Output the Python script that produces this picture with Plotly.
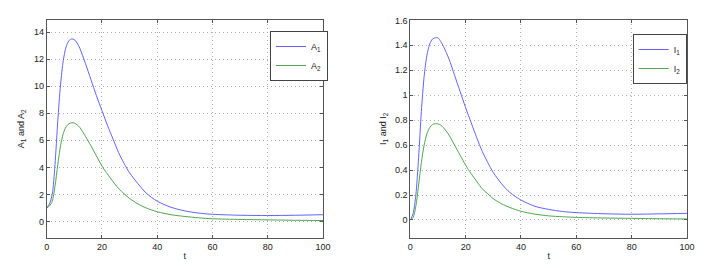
import plotly.graph_objects as go

# ---- data ----
t = [0, 1, 2, 3, 4, 5, 6, 7, 8, 9, 10, 11, 12, 14, 16, 18, 20, 22, 24, 26, 28, 30, 33, 36, 40, 45, 50, 55, 60, 70, 80, 90, 100]
A1 = [1.0, 1.3, 2.0, 4.2, 7.4, 10.1, 11.9, 12.9, 13.35, 13.5, 13.45, 13.2, 12.8, 11.7, 10.5, 9.3, 8.2, 7.1, 6.1, 5.1, 4.3, 3.6, 2.8, 2.1, 1.5, 1.05, 0.78, 0.62, 0.53, 0.46, 0.44, 0.46, 0.5]
A2 = [1.0, 1.15, 1.5, 2.6, 4.2, 5.6, 6.5, 7.0, 7.22, 7.3, 7.28, 7.15, 6.95, 6.3, 5.6, 4.85, 4.1, 3.5, 2.95, 2.45, 2.05, 1.7, 1.3, 1.0, 0.72, 0.5, 0.37, 0.27, 0.2, 0.15, 0.12, 0.09, 0.07]
I1 = [0.0, 0.05, 0.2, 0.5, 0.87, 1.15, 1.32, 1.41, 1.45, 1.46, 1.46, 1.43, 1.39, 1.29, 1.16, 1.03, 0.9, 0.78, 0.66, 0.55, 0.46, 0.38, 0.29, 0.22, 0.16, 0.11, 0.085, 0.068, 0.059, 0.05, 0.046, 0.049, 0.053]
I2 = [0.0, 0.02, 0.11, 0.28, 0.46, 0.6, 0.69, 0.74, 0.765, 0.772, 0.77, 0.76, 0.74, 0.68, 0.6, 0.52, 0.44, 0.37, 0.31, 0.25, 0.21, 0.17, 0.13, 0.1, 0.07, 0.047, 0.033, 0.026, 0.021, 0.016, 0.013, 0.01, 0.008]

xticks = [0, 20, 40, 60, 80, 100]
yticks_A = [0, 2, 4, 6, 8, 10, 12, 14]
yticks_I = [0, 0.2, 0.4, 0.6, 0.8, 1, 1.2, 1.4, 1.6]

BLUE = "#6262ff"
GREEN = "#4ea64e"
FONT = "Liberation Sans"

fig = go.Figure()
def line(c):
    return dict(color=c, width=1, shape="spline", smoothing=0.8)

fig.add_trace(go.Scatter(x=t, y=A1, mode="lines", name="A<sub>1</sub>", line=line(BLUE), xaxis="x", yaxis="y", legend="legend"))
fig.add_trace(go.Scatter(x=t, y=A2, mode="lines", name="A<sub>2</sub>", line=line(GREEN), xaxis="x", yaxis="y", legend="legend"))
fig.add_trace(go.Scatter(x=t, y=I1, mode="lines", name="I<sub>1</sub>", line=line(BLUE), xaxis="x2", yaxis="y2", legend="legend2"))
fig.add_trace(go.Scatter(x=t, y=I2, mode="lines", name="I<sub>2</sub>", line=line(GREEN), xaxis="x2", yaxis="y2", legend="legend2"))

# page body adds an 8px margin, so lay out in a 713x260 figure offset by 8px
OFF = 8
W, H = 721 - OFF, 268 - OFF
ydom = [1 - (237.7 - OFF) / H, 1 - (20 - OFF) / H]

axis_common = dict(
    showline=True, linecolor="#555555", linewidth=1, mirror="ticks",
    ticks="inside", ticklen=3, tickcolor="#555555",
    showgrid=True, gridcolor="#b0b0b0", griddash="1px,3px", gridwidth=1,
    zeroline=False, automargin=False,
    tickfont=dict(family=FONT, size=9, color="#222222"),
)

legend_common = dict(
    bgcolor="white", bordercolor="#444444", borderwidth=1,
    font=dict(family=FONT, size=9, color="#222222"),
    itemwidth=30, tracegroupgap=0, xanchor="left", yanchor="top",
)

fig.update_layout(
    width=W, height=H,
    margin=dict(l=0, r=0, t=0, b=0),
    paper_bgcolor="white", plot_bgcolor="white",
    font=dict(family=FONT, size=9, color="#222222"),
    xaxis=dict(domain=[(46.7 - OFF) / W, (323 - OFF) / W], range=[0, 100], tickvals=xticks, anchor="y",
               title=dict(text="t", standoff=2, font=dict(size=9)), **axis_common),
    yaxis=dict(domain=ydom, range=[-1.2, 14.9], tickvals=yticks_A, anchor="x",
               title=dict(text="A<sub>1</sub> and A<sub>2</sub>", standoff=7, font=dict(size=9)), **axis_common),
    xaxis2=dict(domain=[(410.3 - OFF) / W, (687 - OFF) / W], range=[0, 100], tickvals=xticks, anchor="y2",
                title=dict(text="t", standoff=2, font=dict(size=9)), **axis_common),
    yaxis2=dict(domain=ydom, range=[-0.142, 1.603], tickvals=yticks_I, anchor="x2",
                title=dict(text="I<sub>1</sub> and I<sub>2</sub>", standoff=6, font=dict(size=9)), **axis_common),
    legend=dict(x=(270 - OFF) / W, y=1 - (31 - OFF) / H, **legend_common),
    legend2=dict(x=(632.7 - OFF) / W, y=1 - (34 - OFF) / H, **legend_common),
    showlegend=True,
)

fig.write_html("out.html")
